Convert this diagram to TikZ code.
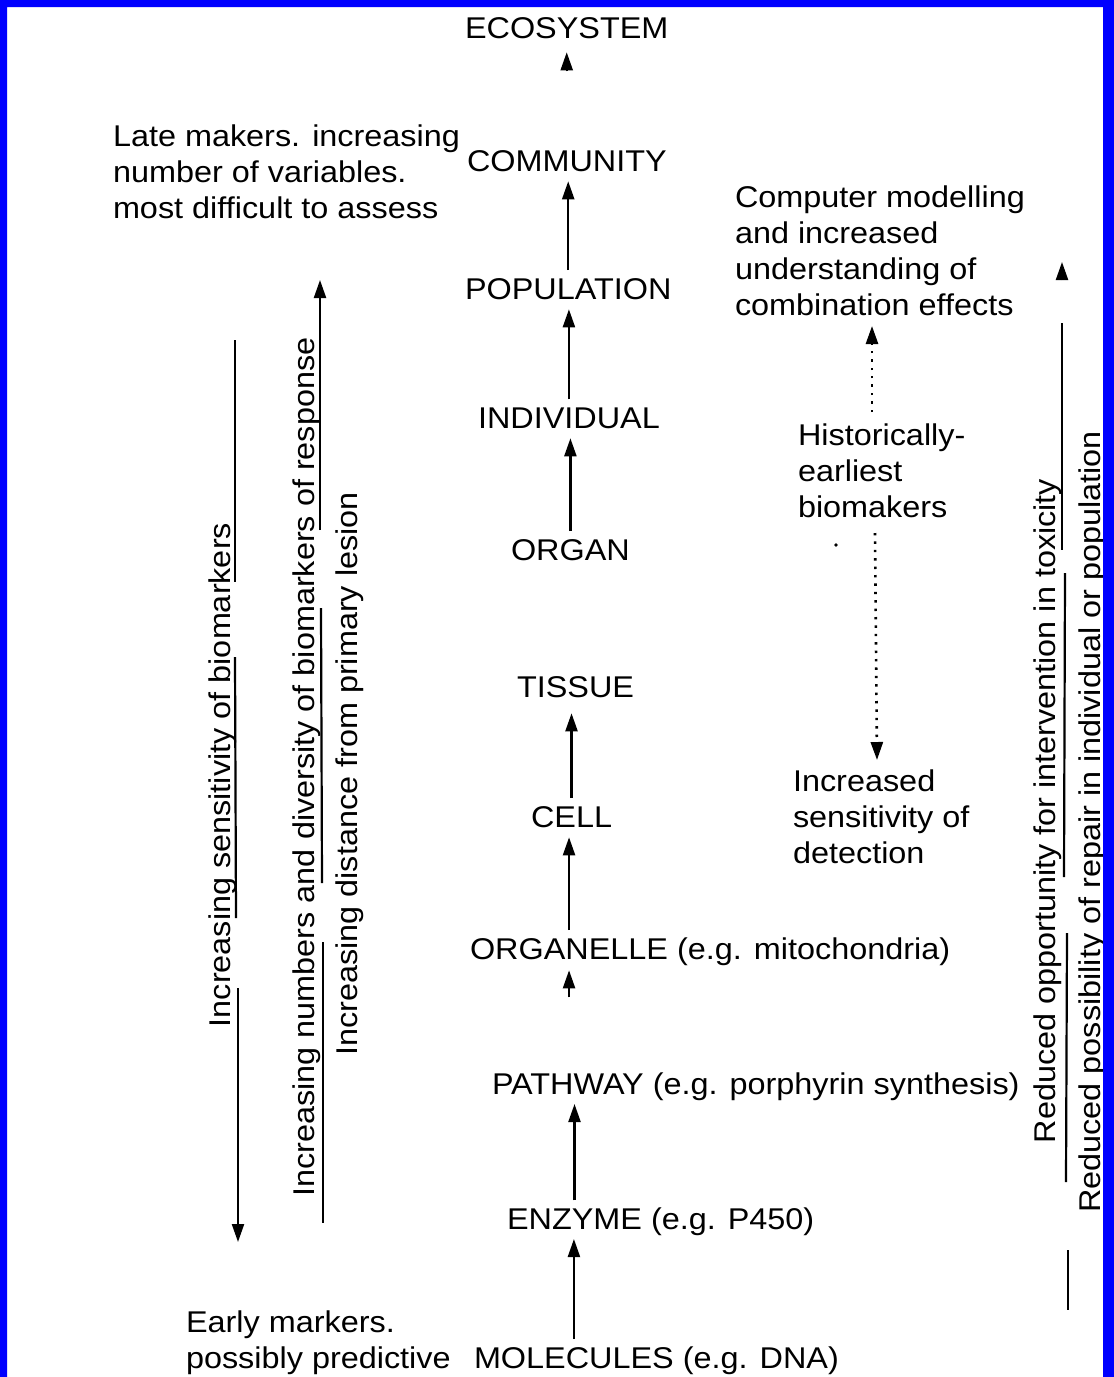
\documentclass[tikz,border=0pt]{standalone}
\usepackage{fontspec}
\setmainfont[FakeStretch=1.08]{Liberation Sans}
\usetikzlibrary{arrows.meta,calc}
\tikzset{
  txt/.style={font=\fontsize{30}{36}\selectfont, inner sep=0pt, outer sep=0pt},
  lvl/.style={txt, anchor=base west},
  note/.style={txt, align=left, anchor=north west},
  vert/.style={txt, rotate=90, anchor=base},
  tipstyle/.style={-{Triangle[length=18pt,width=12pt]}},
  arr/.style={line width=2.2pt, tipstyle, shorten >=10pt, shorten <=8pt},
  seg/.style={line width=2.2pt},
  segarr/.style={line width=2.2pt, tipstyle},
  dotarr/.style={line width=2.6pt, dash pattern=on 2.4pt off 6pt, tipstyle},
}
\begin{document}
\begin{tikzpicture}[x=1pt,y=-1pt]
\useasboundingbox (0,0) rectangle (1114,1377);
\fill[white] (0,0) rectangle (1114,1377);

% levels
\node[lvl] (eco) at (465,38) {ECOSYSTEM};
\node[lvl] (com) at (467,171) {COMMUNITY};
\node[lvl] (pop) at (465,299) {POPULATION};
\node[lvl] (ind) at (478,428) {INDIVIDUAL};
\node[lvl] (org) at (511,560) {ORGAN};
\node[lvl] (tis) at (517,697) {TISSUE};
\node[lvl] (cel) at (531,827) {CELL};
\node[lvl] (ogl) at (470,959) {ORGANELLE};
\node[lvl] (oglx) at ($(ogl.base east)+(9,0)$) {(e.g. mitochondria)};
\node[lvl] (pat) at (492,1094) {PATHWAY};
\node[lvl] (patx) at ($(pat.base east)+(9,0)$) {(e.g. porphyrin synthesis)};
\node[lvl] (enz) at (507,1229) {ENZYME};
\node[lvl] (enzx) at ($(enz.base east)+(9,0)$) {(e.g. P450)};
\node[lvl] (mol) at (474,1368) {MOLECULES};
\node[lvl] (molx) at ($(mol.base east)+(9,0)$) {(e.g. DNA)};

% central arrows
\draw[segarr, shorten >=14pt] ($(eco.south)+(0,33)$) -- (eco.south);
\draw[arr] (pop.north) -- (pop.north |- com.south);
\draw[arr] (ind.north) -- (ind.north |- pop.south);
\draw[arr] (org.north) -- (org.north |- ind.south);
\draw[arr, shorten >=16pt] (cel.north) -- (cel.north |- tis.south);
\draw[arr] (ogl.north) -- (ogl.north |- cel.south);
\draw[segarr, shorten >=11pt] ($(ogl.south)+(0,38)$) -- (ogl.south);
\draw[arr] (enz.north) -- (enz.north |- pat.south);
\draw[arr] (mol.north) -- (mol.north |- enz.south);

% notes
\node[note] (late) at (113,125) {Late makers. increasing\\number of variables.\\most difficult to assess};
\node[note] (early) at (186,1311) {Early markers.\\possibly predictive};
\node[note] (comp) at (735,186) {Computer modelling\\and increased\\understanding of\\combination effects};
\node[note] (hist) at (798,424) {Historically-\\earliest\\biomakers};
\node[note] (incr) at (793,770) {Increased\\sensitivity of\\detection};

% dotted arrows
\coordinate (hu0) at (872,412);
\coordinate (hu1) at (872,326);
\coordinate (hd0) at (875,533);
\coordinate (hd1) at (877,760);
\draw[dotarr] (hu0) -- (hu1);
\draw[dotarr] (hd0) -- (hd1);
\fill (836,545) circle (1.8);

% left vertical labels
\node[vert] (sens) at (230,775) {Increasing sensitivity of biomarkers};
\node[vert] (numb) at (314,767) {Increasing numbers and diversity of biomarkers of response};
\node[vert] (dist) at (357,774) {Increasing distance from primary lesion};

% sensitivity line (downward)
\draw[seg] (235,340) -- (235,582);
\draw[seg] (235,657) -- (236,918);
\draw[segarr] (238,988) -- (238,1242);
% numbers line (upward)
\draw[segarr] (320,530) -- (320,280);
\draw[seg] (321,608) -- (322,883);
\draw[seg] (323,942) -- (323,1223);

% right vertical labels
\node[vert] (opp) at (1055,811) {Reduced opportunity for intervention in toxicity};
\node[vert] (rep) at (1100,822) {Reduced possibility of repair in individual or population};

% right line
\draw[segarr] (1062,280) -- (1062,262);
\draw[seg] (1062,323) -- (1062,550);
\draw[seg] (1065,573) -- (1064,877);
\draw[seg] (1067,933) -- (1066,1182);
\draw[seg] (1068,1250) -- (1068,1310);

% blue frame
\fill[blue, even odd rule] (0,0) rectangle (1114,1377) (7,7) rectangle (1103,1378);
\end{tikzpicture}
\end{document}
